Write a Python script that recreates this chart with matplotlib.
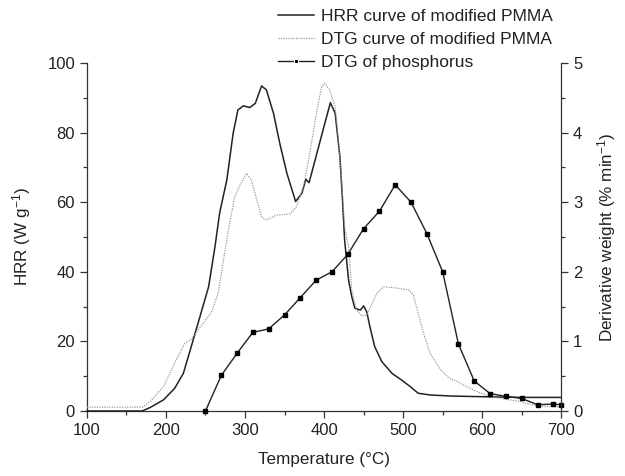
import matplotlib
matplotlib.use("Agg")
import matplotlib.pyplot as plt
from matplotlib.lines import Line2D
from matplotlib.ticker import MultipleLocator

plt.rcParams['font.family'] = ['Liberation Sans', 'DejaVu Sans']
plt.rcParams['mathtext.fontset'] = 'custom'
plt.rcParams['mathtext.rm'] = 'Liberation Sans'
plt.rcParams['mathtext.it'] = 'Liberation Sans:italic'
plt.rcParams['mathtext.default'] = 'regular'

# HRR curve of modified PMMA (W/g)
hrr_t = [100, 170, 180, 197, 211, 222, 232, 243, 254, 262, 268, 277, 285, 291, 298,
         306, 313, 321, 327, 336, 344, 353, 364, 372, 377, 381, 391, 401, 408, 414,
         420, 423, 426, 431, 435, 439, 446, 450, 454, 458, 464, 473, 486, 498, 509,
         519, 534, 560, 600, 650, 700]
hrr_v = [0, 0, 1.0, 3.2, 6.5, 10.8, 18.5, 27.1, 35.7, 47.2, 57.0, 66.4, 79.8, 86.5, 87.7,
         87.2, 88.4, 93.4, 92.3, 85.6, 76.9, 68.3, 60.2, 62.6, 66.6, 65.6, 74.1, 82.7, 88.6, 85.6,
         73.1, 62.0, 49.1, 37.6, 32.9, 29.5, 29.0, 30.2, 28.5, 24.2, 18.5, 14.2, 10.8, 8.9, 7.0,
         5.1, 4.6, 4.3, 4.1, 3.9, 3.9]

# DTG curve of modified PMMA (% /min)
dtg_t = [100, 165, 171, 180, 197, 213, 224, 232, 239, 249, 258, 266, 272, 279, 287,
         296, 302, 308, 315, 321, 327, 340, 357, 365, 374, 382, 391, 397, 401, 407,
         414, 418, 422, 426, 431, 435, 441, 448, 454, 460, 467, 475, 486, 507, 513,
         519, 526, 534, 547, 558, 568, 589, 610, 648, 669, 700]
dtg_v = [0.055, 0.055, 0.06, 0.135, 0.35, 0.735, 0.975, 1.03, 1.14, 1.285, 1.425, 1.69, 2.12, 2.6, 3.08,
         3.3, 3.415, 3.32, 3.03, 2.79, 2.745, 2.815, 2.83, 2.935, 3.225, 3.705, 4.325, 4.66, 4.71, 4.615,
         4.375, 3.895, 3.32, 2.65, 2.36, 1.74, 1.45, 1.365, 1.38, 1.525, 1.69, 1.785, 1.775, 1.74, 1.665,
         1.405, 1.115, 0.83, 0.6, 0.475, 0.425, 0.3, 0.205, 0.135, 0.07, 0.06]

# DTG of phosphorus (% /min)
p_t = [250, 270, 290, 310, 330, 350, 370, 390, 410, 430, 450, 470, 490, 510, 530, 550,
       570, 590, 610, 630, 650, 670, 690, 700]
p_v = [0.0, 0.51, 0.83, 1.13, 1.18, 1.38, 1.63, 1.88, 2.0, 2.25, 2.62, 2.87, 3.25, 3.0, 2.55, 2.0,
       0.96, 0.43, 0.25, 0.21, 0.18, 0.09, 0.1, 0.09]

fig = plt.figure(figsize=(6.25, 4.76), dpi=100)
ax = fig.add_axes([0.139, 0.1366, 0.759, 0.731])
ax2 = ax.twinx()

ax.plot(hrr_t, hrr_v, color='#222222', lw=1.1, clip_on=False, zorder=3)
ax2.plot(dtg_t, dtg_v, color='#999999', lw=0.9, ls=(0, (1, 1)), clip_on=False)
ax2.plot(p_t, p_v, color='#222222', lw=1.0, marker='s', ms=3.2, mfc='black', mec='black', clip_on=False)

ax.set_xlim(100, 700)
ax.set_ylim(0, 100)
ax2.set_ylim(0, 5)

for a in (ax, ax2):
    a.spines['top'].set_visible(False)
    for s in a.spines.values():
        s.set_color('#333333')
        s.set_linewidth(0.9)
ax.spines['right'].set_visible(False)
ax2.spines['left'].set_visible(False)
ax2.spines['bottom'].set_visible(False)

ax.xaxis.set_major_locator(MultipleLocator(100))
ax.xaxis.set_minor_locator(MultipleLocator(50))
ax.yaxis.set_major_locator(MultipleLocator(20))
ax.yaxis.set_minor_locator(MultipleLocator(10))
ax2.yaxis.set_major_locator(MultipleLocator(1))
ax2.yaxis.set_minor_locator(MultipleLocator(0.5))

ax.tick_params(which='major', direction='out', length=5, width=0.9, labelsize=12, colors='#333333')
ax.tick_params(which='minor', direction='out', length=3, width=0.9, colors='#333333')
ax2.tick_params(which='major', direction='out', length=5, width=0.9, labelsize=12, colors='#333333')
ax2.tick_params(which='minor', direction='out', length=3, width=0.9, colors='#333333')
ax.tick_params(axis='x', pad=4)
for lab in ax.get_xticklabels() + ax.get_yticklabels() + ax2.get_yticklabels():
    lab.set_color('#222222')

ax.set_xlabel('Temperature (°C)', fontsize=12.3, color='#222222', labelpad=10)
ax.set_ylabel('HRR (W g$^{-1}$)', fontsize=12.3, color='#222222', labelpad=10)
ax2.set_ylabel('Derivative weight (% min$^{-1}$)', fontsize=12.3, color='#222222', labelpad=9)

handles = [Line2D([], [], color='#222222', lw=1.1),
           Line2D([], [], color='#999999', lw=0.9, ls=(0, (1, 1))),
           Line2D([], [], color='#222222', lw=1.0, marker='s', ms=3.2, mfc='black', mec='white', mew=0.8)]
labels = ['HRR curve of modified PMMA', 'DTG curve of modified PMMA', 'DTG of phosphorus']
fig.legend(handles, labels, loc='upper left', bbox_to_anchor=(0.4336, 0.995),
           frameon=False, fontsize=12.5, handlelength=2.1, handletextpad=0.4,
           labelspacing=0.45, borderaxespad=0.0, borderpad=0.4, labelcolor='#222222')

fig.savefig('out.png', dpi=100)
